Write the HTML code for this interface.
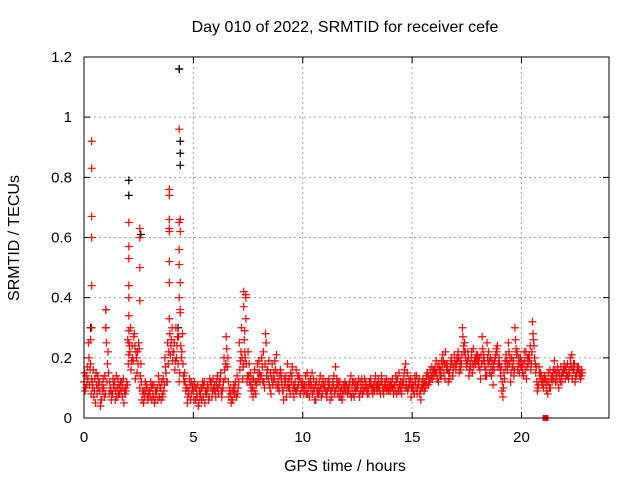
<!DOCTYPE html>
<html><head><meta charset="utf-8"><style>
body{margin:0;background:#fff;}
svg text{font-family:"Liberation Sans",sans-serif;font-size:15px;fill:#000;}
</style></head><body>
<svg id="chart" width="640" height="480" viewBox="0 0 640 480" xmlns="http://www.w3.org/2000/svg">
<rect width="640" height="480" fill="#fff"/>
<text x="345" y="32" text-anchor="middle" style="font-size:16px">Day 010 of 2022, SRMTID for receiver cefe</text>
<text transform="translate(19,238) rotate(-90)" text-anchor="middle" style="font-size:16px">SRMTID / TECUs</text>
<text x="345" y="471" text-anchor="middle" style="font-size:16px">GPS time / hours</text>
<g id="grid"></g><g id="axes"></g><g id="marks"></g>
<rect x="84" y="57" width="525" height="361" fill="none" stroke="#000" stroke-width="1"/>
</svg>
<script>
const xTicks=[0,5,10,15,20];
const yTicks=[0,0.2,0.4,0.6,0.8,1,1.2];
const yTickLabels=["0","0.2","0.4","0.6","0.8","1","1.2"];
const tStart=0, tStep=0.1;
const seriesA=[.12,.14,.25,.18,.10,.13,.08,.12,.06,.10,
.30,.22,.10,.08,.12,.07,.11,.09,.13,.10,
.26,.22,.24,.28,.20,.25,.18,.08,.12,.07,
.09,.06,.11,.08,.14,.10,.07,.20,.12,.33,
.26,.22,.30,.18,.35,.28,.15,.10,.08,.12,
.09,.06,.11,.07,.10,.12,.08,.06,.10,.13,
.09,.14,.11,.07,.20,.27,.12,.08,.06,.10,
.14,.25,.30,.18,.40,.22,.15,.10,.16,.12,
.19,.14,.22,.28,.16,.10,.18,.13,.21,.11,
.15,.09,.12,.18,.10,.14,.07,.16,.11,.08,
.12,.09,.15,.07,.11,.13,.06,.10,.14,.08,
.10,.07,.13,.09,.11,.17,.08,.12,.06,.10,
.11,.09,.14,.08,.12,.10,.07,.13,.09,.11,
.10,.13,.08,.12,.09,.11,.14,.08,.10,.12,
.09,.13,.11,.08,.15,.10,.12,.18,.09,.11,
.12,.08,.14,.11,.06,.13,.10,.15,.12,.17,
.14,.19,.12,.16,.21,.13,.18,.15,.20,.17,
.16,.22,.19,.30,.25,.17,.14,.20,.23,.18,
.21,.16,.27,.19,.14,.22,.17,.11,.20,.24,
.18,.09,.15,.21,.25,.12,.17,.30,.22,.15,
.19,.14,.22,.18,.24,.32,.20,.12,.17,.14,
.10,.13,.08,.16,.12,.19,.14,.10,.17,.15,
.13,.18,.15,.21,.16,.14,.17,.13];
const seriesB=[.09,.17,.11,.13,.07,.15,.10,.04,.09,.14,
.12,.08,.06,.11,.09,.13,.10,.07,.09,.12,
.21,.16,.19,.13,.22,.10,.06,.09,.11,.08,
.12,.08,.06,.10,.07,.12,.09,.15,.18,.21,
.19,.16,.24,.12,.20,.14,.09,.07,.11,.10,
.12,.08,.05,.10,.07,.09,.11,.13,.07,.09,
.12,.08,.15,.10,.13,.17,.09,.06,.11,.08,
.10,.19,.13,.22,.12,.18,.09,.13,.08,.15,
.12,.17,.10,.14,.19,.08,.13,.16,.10,.14,
.11,.13,.07,.10,.15,.09,.12,.10,.13,.10,
.08,.11,.10,.13,.08,.06,.09,.12,.07,.11,
.09,.12,.06,.10,.08,.13,.10,.07,.11,.09,
.08,.12,.10,.07,.10,.13,.09,.11,.10,.08,
.12,.09,.11,.10,.13,.08,.10,.12,.09,.10,
.11,.08,.14,.10,.09,.12,.16,.10,.13,.07,
.09,.12,.10,.08,.12,.09,.14,.11,.13,.15,
.17,.13,.16,.19,.15,.18,.12,.17,.14,.19,
.20,.15,.18,.24,.20,.22,.18,.15,.19,.21,
.17,.21,.19,.14,.20,.15,.19,.16,.23,.18,
.14,.07,.19,.16,.18,.20,.14,.23,.18,.20,
.15,.19,.17,.21,.18,.26,.15,.10,.13,.11,
.14,.09,.12,.13,.16,.12,.17,.13,.12,.18,
.15,.13,.18,.16,.12,.17,.14,.16];
const seriesC=[.15,.11,.20,.08,.16,.05,.14,.09,.11,.07,
.25,.15,.09,.13,.06,.10,.08,.12,.05,.09,
.18,.30,.20,.24,.15,.23,.12,.05,.09,.06,
.07,.11,.05,.09,.12,.06,.13,.17,.25,.28,
.30,.25,.20,.27,.24,.18,.12,.05,.13,.08,
.06,.10,.04,.08,.12,.05,.09,.07,.12,.10,
.07,.10,.13,.09,.16,.23,.07,.05,.09,.12,
.08,.16,.20,.26,.18,.14,.11,.07,.12,.18,
.15,.20,.12,.25,.13,.15,.11,.19,.15,.09,
.13,.06,.14,.12,.08,.17,.10,.09,.14,.12,
.10,.14,.08,.11,.15,.09,.12,.08,.10,.13,
.12,.09,.11,.07,.14,.10,.12,.09,.08,.12,
.09,.11,.07,.12,.09,.11,.12,.08,.13,.09,
.08,.11,.10,.14,.11,.09,.12,.10,.13,.09,
.12,.10,.09,.13,.11,.08,.14,.12,.10,.13,
.10,.14,.08,.13,.10,.11,.12,.14,.16,.13,
.16,.15,.18,.14,.19,.22,.16,.13,.18,.21,
.18,.20,.16,.27,.22,.19,.16,.22,.17,.20,
.19,.13,.23,.17,.25,.19,.14,.18,.21,.17,
.16,.12,.13,.19,.22,.15,.19,.26,.16,.18,
.17,.22,.13,.20,.16,.28,.18,.09,.15,.12,
.12,.11,.15,.10,.14,.16,.12,.15,.14,.16,
.17,.14,.20,.13,.18,.15,.16,.14];
const seriesD=[.10,.13,.16,.12,.09,.11,.12,.06,.13,.08,
.18,.12,.08,.10,.14,.08,.12,.10,.08,.11,
.24,.19,.27,.22,.18,.14,.09,.07,.10,.09,
.10,.07,.09,.06,.10,.08,.11,.12,.22,.24,
.22,.19,.27,.15,.22,.12,.10,.09,.06,.11,
.10,.07,.09,.06,.11,.08,.10,.12,.09,.11,
.10,.12,.09,.12,.18,.20,.10,.09,.08,.07,
.12,.22,.17,.20,.14,.12,.13,.09,.11,.13,
.14,.12,.18,.16,.11,.13,.15,.11,.12,.16,
.09,.11,.10,.13,.12,.11,.09,.14,.08,.11,
.11,.08,.12,.09,.10,.11,.08,.09,.11,.10,
.08,.10,.09,.12,.09,.11,.07,.10,.09,.11,
.10,.08,.12,.10,.11,.08,.10,.09,.12,.10,
.11,.10,.09,.11,.10,.12,.09,.11,.10,.11,
.10,.11,.12,.09,.12,.11,.10,.15,.11,.10,
.11,.10,.12,.09,.10,.12,.11,.13,.14,.16,
.15,.17,.14,.17,.18,.16,.15,.19,.16,.18,
.19,.17,.21,.22,.18,.20,.17,.18,.20,.19,
.20,.18,.21,.16,.18,.20,.16,.19,.22,.20,
.17,.10,.17,.18,.20,.17,.16,.21,.20,.17,
.18,.16,.20,.19,.22,.24,.17,.11,.15,.13,
.13,.12,.10,.14,.13,.15,.15,.12,.15,.16,
.14,.16,.17,.18,.14,.16,.15,.15];
const outlierTimes=[0.35,0.35,0.35,0.35,0.35,0.3,0.35,1.0,1.0,2.05,2.05,2.05,2.05,2.05,2.05,2.05,2.05,2.55,2.55,2.55,2.55,3.9,3.9,3.9,3.9,3.9,3.9,3.9,4.35,4.4,4.35,4.4,4.4,4.35,4.35,4.35,4.4,7.3,7.4,7.3,7.4,7.35];
const outlierValues=[.92,.83,.67,.60,.44,.26,.30,.36,.30,.65,.57,.53,.44,.40,.34,.29,.25,.63,.60,.50,.39,.76,.74,.66,.63,.62,.52,.45,.96,.66,.65,.62,.45,.56,.51,.40,.36,.42,.41,.37,.33,.29];
const blackTimes=[4.35,4.4,4.4,4.4,2.05,2.05,2.6,0.3,1.0,4.3];
const blackValues=[1.16,.92,.88,.84,.79,.74,.61,.30,.36,.30];
const sq={t:21.1,v:0};

const X=t=>84+t*(525/24), Y=v=>418-v*(361/1.2);
const NS="http://www.w3.org/2000/svg";
const grid=document.getElementById('grid'),axes=document.getElementById('axes'),marks=document.getElementById('marks');
function mk(tag,attrs,parent){const e=document.createElementNS(NS,tag);for(const k in attrs)e.setAttribute(k,attrs[k]);parent.appendChild(e);return e;}
xTicks.forEach(t=>{
 if(t>0){const g=mk('line',{x1:X(t),x2:X(t),y1:57,y2:418,stroke:'#a0a0a0','stroke-dasharray':'2,3'},grid);
 
 }
 const tk=mk('path',{d:`M${X(t)},418v-6M${X(t)},57v6`,stroke:'#000'},axes);
 
 
 const l=mk('text',{x:X(t),y:442,'text-anchor':'middle'},axes);l.textContent=t;
 
 
});
yTicks.forEach((v,i)=>{
 if(v>0&&v<1.2){const g=mk('line',{x1:84,x2:609,y1:Y(v),y2:Y(v),stroke:'#a0a0a0','stroke-dasharray':'2,3'},grid);
 
 }
 const tk=mk('path',{d:`M84,${Y(v)}h6M609,${Y(v)}h-6`,stroke:'#000'},axes);
 
 
 const l=mk('text',{x:72,y:Y(v)+5,'text-anchor':'end'},axes);l.textContent=yTickLabels[i];
 
 
});
function plus(t,v,color){const x=X(t),y=Y(v);
 const p=mk('path',{d:`M${x-4},${y}h8M${x},${y-4}v8`,stroke:color,'stroke-width':1.2},marks);
 
 }
blackTimes.forEach((t,i)=>plus(t,blackValues[i],'#000'));
seriesA.forEach((v,i)=>plus(tStart+i*tStep,v,'#f00'));
seriesB.forEach((v,i)=>plus(tStart+i*tStep+tStep/2,v,'#f00'));
seriesC.forEach((v,i)=>plus(tStart+i*tStep+tStep/4,v,'#f00'));
seriesD.forEach((v,i)=>plus(tStart+i*tStep+3*tStep/4,v,'#f00'));
outlierTimes.forEach((t,i)=>plus(t,outlierValues[i],'#f00'));
plus(4.35,1.16,'#000');
const s=mk('rect',{x:X(sq.t)-3,y:Y(sq.v)-3,width:6,height:6,fill:'#f00'},marks);


</script>
</body></html>
